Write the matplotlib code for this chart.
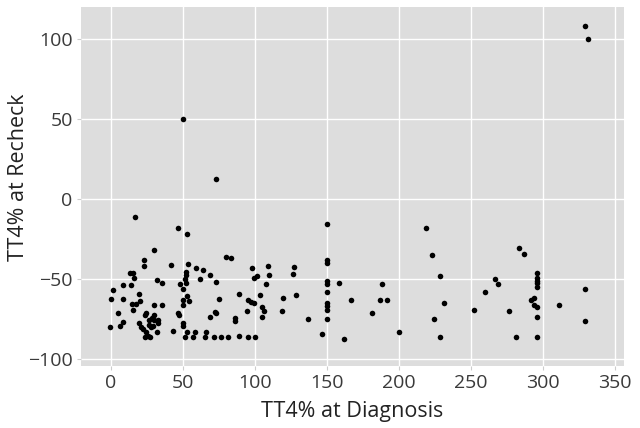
import matplotlib.pyplot as plt
from matplotlib import font_manager as fm

# TT4% values
tt4_diagnosis = [
    329.2, 331.4, 50.2, 73.2, 16.6, 46.6, 53.2, 149.9, 219.1, 29.8, 283.4, 286.8, 223.3,
    23.4, 23.4, 41.8, 53.4, 59.0, 64.4, 79.8, 83.3, 98.3, 108.9,
    13.4, 15.5, 16.4, 13.9, 8.7, 1.8, 32.3, 35.4,
    52.0, 52.3, 51.6, 52.0, 48.1, 50.3, 62.2, 68.7, 72.9,
    99.8, 101.8, 109.6, 107.8, 19.8, 0.0, 8.4,
    15.0, 17.5, 20.6, 15.5, 30.2, 35.5, 4.9, 24.7, 23.5, 30.0,
    46.6, 47.2, 50.1, 53.1, 54.4, 50.1, 75.2, 72.3, 73.4, 68.7,
    89.0, 95.0, 97.3, 99.4, 103.8, 104.8, 94.9, 106.6, 104.9, 86.4, 86.1,
    -0.2, 6.6, 8.5, 19.9, 21.1, 22.5,
    26.6, 28.4, 30.0, 32.6, 33.0, 26.6, 28.0, 29.6, 31.9,
    24.5, 23.8, 25.7, 27.3, 43.4, 50.1, 50.4,
    53.3, 58.4, 51.8, 57.3, 66.5, 65.2,
    71.5, 76.3, 81.4, 89.3, 95.2, 100.1,
    149.9, 149.9, 149.9, 149.9, 149.9, 149.9, 149.9, 149.9, 149.9,
    127.2, 126.6, 119.4, 118.9, 128.8, 136.9, 146.6, 158.2, 166.5,
    188.4, 186.9, 191.5, 181.3, 200.1, 161.9,
    228.5, 231.5, 224.8, 228.5,
    266.7, 269.0, 260.0, 252.3, 276.4, 281.3, 295.8, 296.0,
    295.8, 295.8, 295.8, 295.8, 295.8,
    291.7, 293.8, 293.8, 296.0, 311.0, 329.2, 329.2,
]
tt4_recheck = [
    108.1, 100.0, 50.0, 12.5, -11.3, -18.1, -21.8, -15.6, -18.1, -31.8, -30.8, -34.6, -34.8,
    -38.2, -41.8, -41.0, -40.5, -43.0, -44.3, -36.4, -36.8, -43.0, -41.9,
    -46.0, -46.5, -49.6, -53.5, -53.9, -56.9, -50.8, -52.8,
    -45.4, -47.5, -50.2, -52.3, -53.2, -56.4, -50.0, -47.6, -52.0,
    -49.6, -48.4, -47.6, -53.2, -59.7, -62.5, -62.5,
    -65.8, -65.4, -63.8, -69.6, -66.0, -66.0, -71.5, -71.3, -72.7, -72.4,
    -71.6, -72.5, -63.0, -60.7, -63.9, -66.0, -62.5, -70.7, -71.6, -73.8,
    -59.7, -63.2, -64.5, -65.0, -60.0, -67.3, -69.8, -69.8, -73.8, -74.6, -76.0,
    -79.8, -79.5, -76.7, -77.7, -80.0, -81.5,
    -75.6, -74.6, -75.6, -75.6, -77.7, -78.8, -79.8, -79.4, -83.0,
    -83.0, -86.2, -85.6, -86.5, -82.6, -77.7, -79.6,
    -83.0, -83.1, -86.5, -86.5, -83.0, -86.5,
    -86.5, -86.5, -86.5, -85.4, -86.5, -86.5,
    -37.9, -40.2, -51.1, -52.9, -58.1, -65.2, -67.1, -69.4, -74.8,
    -42.5, -46.7, -62.0, -70.0, -59.8, -74.8, -84.6, -52.3, -63.1,
    -53.1, -63.1, -63.1, -71.5, -82.9, -87.3,
    -48.3, -64.8, -74.8, -86.5,
    -49.8, -53.1, -58.1, -69.4, -70.0, -86.2, -86.2, -73.9,
    -46.5, -49.6, -51.0, -52.7, -54.8,
    -63.1, -61.9, -66.2, -67.3, -66.5, -56.4, -76.2,
]

x_ticks = [0, 50, 100, 150, 200, 250, 300, 350]
y_ticks = [-100, -50, 0, 50, 100]

# the variable Open Sans file renders condensed, so use the static regular cut
regular = [f.fname for f in fm.fontManager.ttflist
           if f.fname.endswith('OpenSans-Regular.ttf')]
if regular:
    tick_font = fm.FontProperties(fname=regular[0], size=14)
    label_font = fm.FontProperties(fname=regular[0], size=15.5)
else:
    tick_font = fm.FontProperties(family='Noto Sans', size=14)
    label_font = fm.FontProperties(family='Noto Sans', size=15.5)

fig = plt.figure(figsize=(6.4, 4.28), dpi=100)
ax = fig.add_axes([0.1266, 0.145, 0.848, 0.838])

ax.set_facecolor('#dddddd')
ax.grid(True, color='white', linewidth=1.0)
ax.set_axisbelow(True)
for s in ax.spines.values():
    s.set_visible(False)

ax.scatter(tt4_diagnosis, tt4_recheck, s=16, color='black', linewidths=0, zorder=3)

ax.set_xlim(-20.6, 356.2)
ax.set_ylim(-104.4, 119.8)
ax.set_xticks(x_ticks)
ax.set_yticks(y_ticks)
ax.tick_params(axis='both', length=3, color='#cccccc', labelcolor='#3a3a3a', pad=3)
for lab in ax.get_xticklabels() + ax.get_yticklabels():
    lab.set_fontproperties(tick_font)

ax.set_xlabel("TT4% at Diagnosis", fontproperties=label_font, color='#222222', labelpad=6)
ax.set_ylabel("TT4% at Recheck", fontproperties=label_font, color='#222222')
ax.yaxis.set_label_coords(-0.096, 0.527)

plt.savefig("out.png", dpi=100)
